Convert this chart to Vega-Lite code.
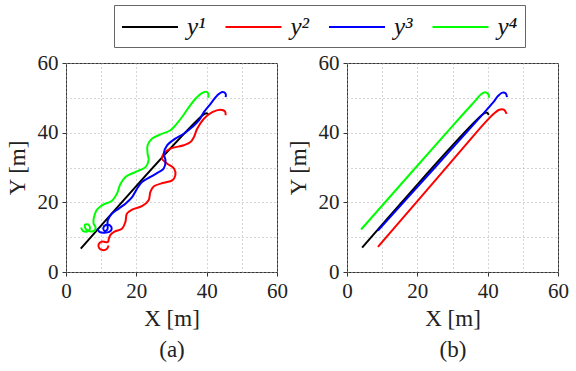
{
  "$schema": "https://vega.github.io/schema/vega-lite/v6.json",
  "padding": {"left": 5, "top": 4, "right": 5, "bottom": 5},
  "bounds": "flush",
  "spacing": 70,
  "datasets": {
    "traj": [
      {"p":"a","s":"y¹","i":0,"x":4.2,"y":6.7},{"p":"a","s":"y¹","i":1,"x":39.4,"y":45.4},{"p":"a","s":"y¹","i":2,"x":40.1,"y":45.5},{"p":"a","s":"y¹","i":3,"x":40.5,"y":45.0},

      {"p":"a","s":"y²","i":0,"x":12.1,"y":7.6},{"p":"a","s":"y²","i":1,"x":11.6,"y":6.6},{"p":"a","s":"y²","i":2,"x":10.4,"y":6.3},{"p":"a","s":"y²","i":3,"x":9.4,"y":6.9},{"p":"a","s":"y²","i":4,"x":9.3,"y":8.0},{"p":"a","s":"y²","i":5,"x":10.1,"y":8.7},{"p":"a","s":"y²","i":6,"x":11.2,"y":8.6},{"p":"a","s":"y²","i":7,"x":11.9,"y":8.6},{"p":"a","s":"y²","i":8,"x":12.2,"y":9.6},{"p":"a","s":"y²","i":9,"x":12.6,"y":10.6},{"p":"a","s":"y²","i":10,"x":13.8,"y":11.6},{"p":"a","s":"y²","i":11,"x":15.9,"y":12.4},{"p":"a","s":"y²","i":12,"x":16.9,"y":14.4},{"p":"a","s":"y²","i":13,"x":17.3,"y":16.7},{"p":"a","s":"y²","i":14,"x":18.8,"y":17.9},{"p":"a","s":"y²","i":15,"x":21.6,"y":18.9},{"p":"a","s":"y²","i":16,"x":23.5,"y":20.6},{"p":"a","s":"y²","i":17,"x":24.0,"y":23.0},{"p":"a","s":"y²","i":18,"x":25.0,"y":24.6},{"p":"a","s":"y²","i":19,"x":27.8,"y":25.6},{"p":"a","s":"y²","i":20,"x":30.2,"y":26.3},{"p":"a","s":"y²","i":21,"x":31.1,"y":27.8},{"p":"a","s":"y²","i":22,"x":30.7,"y":29.7},{"p":"a","s":"y²","i":23,"x":28.8,"y":31.1},{"p":"a","s":"y²","i":24,"x":27.3,"y":32.5},{"p":"a","s":"y²","i":25,"x":27.8,"y":34.0},{"p":"a","s":"y²","i":26,"x":29.7,"y":35.4},{"p":"a","s":"y²","i":27,"x":33.5,"y":36.4},{"p":"a","s":"y²","i":28,"x":35.4,"y":37.3},{"p":"a","s":"y²","i":29,"x":36.4,"y":38.8},{"p":"a","s":"y²","i":30,"x":37.3,"y":41.1},{"p":"a","s":"y²","i":31,"x":39.2,"y":44.0},{"p":"a","s":"y²","i":32,"x":41.6,"y":45.9},{"p":"a","s":"y²","i":33,"x":44.0,"y":46.6},{"p":"a","s":"y²","i":34,"x":45.2,"y":46.1},{"p":"a","s":"y²","i":35,"x":45.4,"y":45.0},

      {"p":"a","s":"y³","i":0,"x":8.9,"y":12.5},{"p":"a","s":"y³","i":1,"x":9.5,"y":11.5},{"p":"a","s":"y³","i":2,"x":10.8,"y":11.3},{"p":"a","s":"y³","i":3,"x":12.3,"y":11.5},{"p":"a","s":"y³","i":4,"x":13.0,"y":12.4},{"p":"a","s":"y³","i":5,"x":12.5,"y":13.4},{"p":"a","s":"y³","i":6,"x":11.3,"y":13.5},{"p":"a","s":"y³","i":7,"x":10.6,"y":12.6},{"p":"a","s":"y³","i":8,"x":11.0,"y":11.8},{"p":"a","s":"y³","i":9,"x":11.8,"y":12.3},{"p":"a","s":"y³","i":10,"x":11.8,"y":13.8},{"p":"a","s":"y³","i":11,"x":11.9,"y":14.9},{"p":"a","s":"y³","i":12,"x":13.0,"y":16.7},{"p":"a","s":"y³","i":13,"x":15.0,"y":18.2},{"p":"a","s":"y³","i":14,"x":16.9,"y":19.6},{"p":"a","s":"y³","i":15,"x":18.8,"y":21.5},{"p":"a","s":"y³","i":16,"x":20.2,"y":23.9},{"p":"a","s":"y³","i":17,"x":21.6,"y":25.8},{"p":"a","s":"y³","i":18,"x":24.0,"y":27.3},{"p":"a","s":"y³","i":19,"x":26.4,"y":28.7},{"p":"a","s":"y³","i":20,"x":27.8,"y":29.7},{"p":"a","s":"y³","i":21,"x":28.3,"y":32.1},{"p":"a","s":"y³","i":22,"x":27.8,"y":34.0},{"p":"a","s":"y³","i":23,"x":28.8,"y":36.4},{"p":"a","s":"y³","i":24,"x":31.1,"y":38.3},{"p":"a","s":"y³","i":25,"x":33.5,"y":39.7},{"p":"a","s":"y³","i":26,"x":35.9,"y":41.6},{"p":"a","s":"y³","i":27,"x":37.8,"y":43.5},{"p":"a","s":"y³","i":28,"x":39.2,"y":45.9},{"p":"a","s":"y³","i":29,"x":41.1,"y":48.3},{"p":"a","s":"y³","i":30,"x":43.0,"y":50.7},{"p":"a","s":"y³","i":31,"x":44.5,"y":51.7},{"p":"a","s":"y³","i":32,"x":45.4,"y":51.2},{"p":"a","s":"y³","i":33,"x":45.4,"y":50.2},

      {"p":"a","s":"y⁴","i":0,"x":4.3,"y":12.8},{"p":"a","s":"y⁴","i":1,"x":4.8,"y":11.8},{"p":"a","s":"y⁴","i":2,"x":6.0,"y":11.6},{"p":"a","s":"y⁴","i":3,"x":6.8,"y":12.4},{"p":"a","s":"y⁴","i":4,"x":6.4,"y":13.6},{"p":"a","s":"y⁴","i":5,"x":5.4,"y":13.6},{"p":"a","s":"y⁴","i":6,"x":5.6,"y":12.4},{"p":"a","s":"y⁴","i":7,"x":6.8,"y":11.7},{"p":"a","s":"y⁴","i":8,"x":8.0,"y":11.8},{"p":"a","s":"y⁴","i":9,"x":8.4,"y":12.8},{"p":"a","s":"y⁴","i":10,"x":7.9,"y":13.8},{"p":"a","s":"y⁴","i":11,"x":7.8,"y":14.4},{"p":"a","s":"y⁴","i":12,"x":8.1,"y":16.3},{"p":"a","s":"y⁴","i":13,"x":8.8,"y":17.9},{"p":"a","s":"y⁴","i":14,"x":10.7,"y":19.4},{"p":"a","s":"y⁴","i":15,"x":13.0,"y":20.4},{"p":"a","s":"y⁴","i":16,"x":14.5,"y":22.5},{"p":"a","s":"y⁴","i":17,"x":15.4,"y":25.1},{"p":"a","s":"y⁴","i":18,"x":16.9,"y":27.3},{"p":"a","s":"y⁴","i":19,"x":19.7,"y":28.7},{"p":"a","s":"y⁴","i":20,"x":22.6,"y":30.1},{"p":"a","s":"y⁴","i":21,"x":23.5,"y":32.1},{"p":"a","s":"y⁴","i":22,"x":23.2,"y":34.0},{"p":"a","s":"y⁴","i":23,"x":23.2,"y":36.4},{"p":"a","s":"y⁴","i":24,"x":24.5,"y":38.3},{"p":"a","s":"y⁴","i":25,"x":26.9,"y":39.5},{"p":"a","s":"y⁴","i":26,"x":29.7,"y":40.7},{"p":"a","s":"y⁴","i":27,"x":31.1,"y":42.1},{"p":"a","s":"y⁴","i":28,"x":33.0,"y":44.5},{"p":"a","s":"y⁴","i":29,"x":35.0,"y":47.4},{"p":"a","s":"y⁴","i":30,"x":36.9,"y":49.8},{"p":"a","s":"y⁴","i":31,"x":38.8,"y":51.4},{"p":"a","s":"y⁴","i":32,"x":40.0,"y":51.7},{"p":"a","s":"y⁴","i":33,"x":40.5,"y":51.0},{"p":"a","s":"y⁴","i":34,"x":40.4,"y":50.0},

      {"p":"b","s":"y¹","i":0,"x":4.3,"y":7.0},{"p":"b","s":"y¹","i":1,"x":39.1,"y":45.6},{"p":"b","s":"y¹","i":2,"x":39.9,"y":45.7},{"p":"b","s":"y¹","i":3,"x":40.3,"y":45.1},

      {"p":"b","s":"y²","i":0,"x":8.8,"y":7.2},{"p":"b","s":"y²","i":1,"x":21.0,"y":21.5},{"p":"b","s":"y²","i":2,"x":34.0,"y":36.8},{"p":"b","s":"y²","i":3,"x":39.0,"y":42.6},{"p":"b","s":"y²","i":4,"x":41.8,"y":45.5},{"p":"b","s":"y²","i":5,"x":43.3,"y":46.6},{"p":"b","s":"y²","i":6,"x":44.6,"y":46.6},{"p":"b","s":"y²","i":7,"x":45.4,"y":45.4},

      {"p":"b","s":"y³","i":0,"x":8.8,"y":11.9},{"p":"b","s":"y³","i":1,"x":25.0,"y":30.0},{"p":"b","s":"y³","i":2,"x":38.0,"y":44.6},{"p":"b","s":"y³","i":3,"x":41.5,"y":48.6},{"p":"b","s":"y³","i":4,"x":43.0,"y":50.6},{"p":"b","s":"y³","i":5,"x":44.2,"y":51.5},{"p":"b","s":"y³","i":6,"x":45.1,"y":51.3},{"p":"b","s":"y³","i":7,"x":45.5,"y":50.2},

      {"p":"b","s":"y⁴","i":0,"x":4.0,"y":12.2},{"p":"b","s":"y⁴","i":1,"x":30.6,"y":42.6},{"p":"b","s":"y⁴","i":2,"x":36.5,"y":49.2},{"p":"b","s":"y⁴","i":3,"x":38.2,"y":51.1},{"p":"b","s":"y⁴","i":4,"x":39.3,"y":51.6},{"p":"b","s":"y⁴","i":5,"x":40.2,"y":51.0},{"p":"b","s":"y⁴","i":6,"x":40.4,"y":50.0}
    ]
  },
  "data": {"name": "traj"},
  "hconcat": [
    {
      "width": 211,
      "height": 209,
      "transform": [{"filter": "datum.p === 'a'"}],
      "mark": {"type": "line", "strokeWidth": 2, "interpolate": "catmull-rom"},
      "encoding": {
        "x": {"field": "x", "type": "quantitative", "scale": {"domain": [0, 60], "nice": false},
              "axis": {"title": ["X [m]", "(a)"], "labelFont": "Liberation Serif", "labelFontSize": 21, "titleFont": "Liberation Serif", "titleFontSize": 23}},
        "y": {"field": "y", "type": "quantitative", "scale": {"domain": [0, 60], "nice": false},
              "axis": {"title": "Y [m]", "labelFont": "Liberation Serif", "labelFontSize": 21, "titleFont": "Liberation Serif", "titleFontSize": 23}},
        "color": {"field": "s", "type": "nominal", "scale": {"domain": ["y¹", "y²", "y³", "y⁴"], "range": ["#000000", "#ff0000", "#0000ff", "#00ff00"]}},
        "order": {"field": "i", "type": "quantitative"}
      }
    },
    {
      "width": 211,
      "height": 209,
      "transform": [{"filter": "datum.p === 'b'"}],
      "mark": {"type": "line", "strokeWidth": 2, "interpolate": "catmull-rom"},
      "encoding": {
        "x": {"field": "x", "type": "quantitative", "scale": {"domain": [0, 60], "nice": false},
              "axis": {"title": ["X [m]", "(b)"], "labelFont": "Liberation Serif", "labelFontSize": 21, "titleFont": "Liberation Serif", "titleFontSize": 23}},
        "y": {"field": "y", "type": "quantitative", "scale": {"domain": [0, 60], "nice": false},
              "axis": {"title": "Y [m]", "labelFont": "Liberation Serif", "labelFontSize": 21, "titleFont": "Liberation Serif", "titleFontSize": 23}},
        "color": {"field": "s", "type": "nominal", "scale": {"domain": ["y¹", "y²", "y³", "y⁴"], "range": ["#000000", "#ff0000", "#0000ff", "#00ff00"]}},
        "order": {"field": "i", "type": "quantitative"}
      }
    }
  ],
  "config": {
    "font": "Liberation Serif",
    "view": {"stroke": "#333333", "strokeWidth": 1},
    "axis": {
      "domain": false,
      "grid": true,
      "gridDash": [1, 3],
      "gridColor": "#aaaaaa",
      "gridWidth": 1,
      "values": [0, 5, 10, 15, 20, 25, 30, 35, 40, 45, 50, 55, 60],
      "labelExpr": "datum.value % 20 === 0 ? datum.label : ''",
      "tickOpacity": {"condition": {"test": "datum.value % 20 === 0", "value": 1}, "value": 0},
      "tickColor": "#333333",
      "tickSize": 4,
      "labelColor": "#222222",
      "labelPadding": 4,
      "labelFlush": false,
      "labelOverlap": false,
      "titleFontWeight": "normal",
      "titleColor": "#222222",
      "titleLineHeight": 31
    },
    "axisX": {"titlePadding": 6},
    "axisY": {"titlePadding": 8},
    "legend": {
      "orient": "none",
      "legendX": 48,
      "legendY": -58,
      "direction": "horizontal",
      "columns": 4,
      "title": null,
      "symbolType": "M-1,0H3",
      "symbolSize": 784,
      "symbolStrokeWidth": 2,
      "labelFont": "Liberation Serif",
      "labelFontStyle": "italic",
      "labelFontSize": 25,
      "labelColor": "#111111",
      "labelOffset": 36,
      "columnPadding": 15.5,
      "strokeColor": "#666666",
      "padding": 7
    }
  }
}
